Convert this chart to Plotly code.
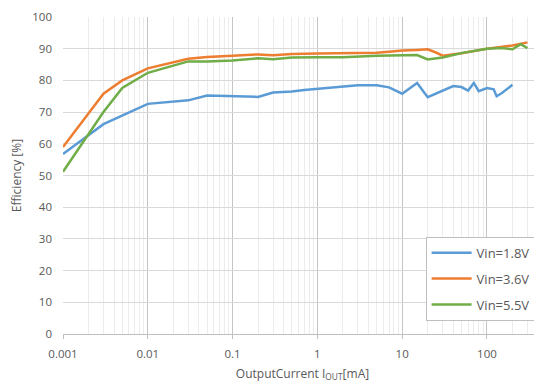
import plotly.graph_objects as go

# ---- data ----
x_18 = [0.001, 0.003, 0.01, 0.03, 0.05, 0.1, 0.2, 0.3, 0.5, 0.7, 1, 2, 3, 5, 7, 10,
        15, 20, 30, 40, 50, 60, 70, 80, 100, 120, 130, 150, 200]
eff_18 = [56.8, 66.2, 72.6, 73.7, 75.2, 75.1, 74.8, 76.2, 76.5, 77.0, 77.4, 78.1, 78.5, 78.5,
          77.8, 75.8, 79.2, 74.7, 76.8, 78.2, 77.9, 76.8, 79.2, 76.6, 77.6, 77.2, 75.0, 76.0, 78.6]

x_36 = [0.001, 0.003, 0.005, 0.01, 0.03, 0.05, 0.1, 0.2, 0.3, 0.5, 1, 5, 7, 10, 15, 20,
        25, 30, 50, 100, 200, 300]
eff_36 = [59.0, 75.8, 80.0, 83.8, 86.8, 87.4, 87.8, 88.2, 87.9, 88.3, 88.5, 88.7, 89.0, 89.4,
          89.6, 89.8, 88.8, 87.8, 88.6, 90.0, 91.0, 92.0]

x_55 = [0.001, 0.003, 0.005, 0.01, 0.03, 0.05, 0.1, 0.2, 0.3, 0.5, 1, 2, 5, 10, 15, 20,
        30, 50, 100, 150, 200, 250, 300]
eff_55 = [51.2, 70.0, 77.6, 82.4, 86.0, 86.0, 86.3, 87.0, 86.7, 87.2, 87.3, 87.3, 87.8,
          88.0, 88.0, 86.6, 87.2, 88.6, 90.0, 90.2, 89.8, 91.4, 90.2]

series_names = ["Vin=1.8V", "Vin=3.6V", "Vin=5.5V"]
x_tick_vals = [0.001, 0.01, 0.1, 1, 10, 100]
x_tick_text = ["0.001", "0.01", "0.1", "1", "10", "100"]
y_tick_vals = [0, 10, 20, 30, 40, 50, 60, 70, 80, 90, 100]

colors = ["#5b9bd5", "#ed7d31", "#70ad47"]

fig = go.Figure()
for i, (xs, ys) in enumerate([(x_18, eff_18), (x_36, eff_36), (x_55, eff_55)]):
    fig.add_trace(go.Scatter(
        x=xs, y=ys, mode="lines", name=series_names[i],
        line=dict(color=colors[i], width=2.5),
        legendgroup=f"g{i}",
    ))

minor_vals = [m * 10 ** e for e in range(-3, 3) for m in range(2, 10)]

font_family = "Open Sans, Noto Sans, sans-serif"
# page body adds an 8px offset, so the figure is 8px smaller than the window
fig.update_layout(
    width=534, height=379,
    margin=dict(l=55, r=0, t=9, b=53),
    paper_bgcolor="white", plot_bgcolor="white",
    font=dict(family=font_family, size=11, color="#595959"),
    showlegend=True,
    legend=dict(
        x=0.757, y=0.307, xanchor="left", yanchor="top",
        bgcolor="white", bordercolor="#bfbfbf", borderwidth=1,
        font=dict(size=13, color="#595959"),
        tracegroupgap=6, itemwidth=40,
    ),
    xaxis=dict(
        type="log", range=[-3, 2.649], automargin=False,
        tickvals=x_tick_vals, ticktext=x_tick_text,
        showgrid=True, gridcolor="#c4c4c4", gridwidth=1,
        ticks="outside", ticklen=4, tickcolor="#bfbfbf",
        showline=True, linecolor="#bfbfbf", linewidth=1,
        zeroline=False, ticklabelstandoff=5,
        minor=dict(tickvals=minor_vals, showgrid=True, gridcolor="#ececec", gridwidth=1, ticks=""),
        title=dict(text="OutputCurrent I<sub>OUT</sub>[mA]", font=dict(size=12, color="#595959"), standoff=9),
        tickfont=dict(size=11.5, color="#595959"),
    ),
    yaxis=dict(
        range=[0, 100], tickvals=y_tick_vals, automargin=False,
        showgrid=True, gridcolor="#d9d9d9", gridwidth=1,
        zeroline=False, showline=False,
        ticks="", ticklabelstandoff=10, ticklabeloverflow="allow",
        title=dict(text="Efficiency [%]", font=dict(size=12, color="#595959"), standoff=16),
        tickfont=dict(size=11.5, color="#595959"),
    ),
)

fig.write_html("out.html")
